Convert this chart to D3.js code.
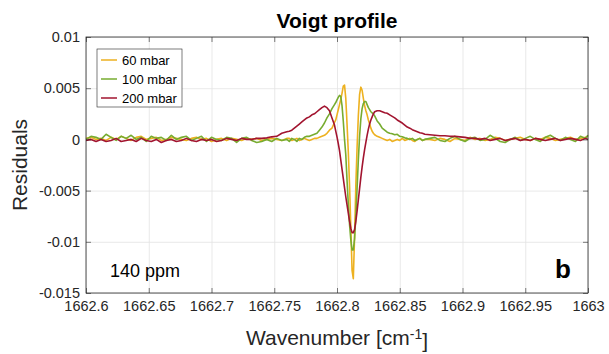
<!DOCTYPE html>
<html>
<head>
<meta charset="utf-8">
<script src="https://cdn.jsdelivr.net/npm/d3@7"></script>
<style>
  body { margin: 0; background: #fff; }
  svg { font-family: "Liberation Sans", Arial, sans-serif; }
  .axis text { font-size: 14.5px; fill: #262626; }
  .axis line { stroke: #262626; stroke-width: 0.6; }
  .axis path { display: none; }
  .grid line { stroke: #e3e3e3; stroke-width: 0.8; }
  .grid path { display: none; }
  .line { fill: none; stroke-width: 1.6; stroke-linejoin: round; }
</style>
</head>
<body>
<svg width="609" height="354"></svg>
<script>
// wavenumber grid [cm-1]
var wavenumber = [
  1662.600, 1662.604, 1662.608, 1662.612, 1662.616, 1662.620, 1662.624, 1662.628, 1662.632, 1662.636,
  1662.640, 1662.644, 1662.648, 1662.652, 1662.656, 1662.660, 1662.664, 1662.668, 1662.672, 1662.676,
  1662.680, 1662.684, 1662.688, 1662.692, 1662.696, 1662.700, 1662.704, 1662.708, 1662.712, 1662.716,
  1662.720, 1662.724, 1662.728, 1662.732, 1662.736, 1662.740, 1662.744, 1662.748, 1662.752, 1662.756,
  1662.760,
  1662.762, 1662.764, 1662.766, 1662.768, 1662.770, 1662.772, 1662.774, 1662.776, 1662.778, 1662.780,
  1662.782, 1662.784, 1662.786, 1662.788, 1662.790, 1662.792, 1662.794, 1662.796, 1662.798,
  1662.799, 1662.800, 1662.801, 1662.802, 1662.803, 1662.804, 1662.805, 1662.806, 1662.807, 1662.808,
  1662.809, 1662.810, 1662.811, 1662.812, 1662.813, 1662.814, 1662.815, 1662.816, 1662.817, 1662.818,
  1662.819, 1662.820, 1662.821, 1662.822, 1662.823, 1662.824, 1662.825, 1662.826, 1662.827, 1662.828,
  1662.829, 1662.830,
  1662.832, 1662.834, 1662.836, 1662.838, 1662.840, 1662.842, 1662.844, 1662.846, 1662.848, 1662.850,
  1662.852, 1662.854, 1662.856, 1662.858, 1662.860, 1662.862, 1662.864, 1662.866, 1662.868, 1662.870,
  1662.874, 1662.878, 1662.882, 1662.886, 1662.890, 1662.894, 1662.898, 1662.902, 1662.906, 1662.910,
  1662.914, 1662.918, 1662.922, 1662.926, 1662.930, 1662.934, 1662.938, 1662.942, 1662.946, 1662.950,
  1662.954, 1662.958, 1662.962, 1662.966, 1662.970, 1662.974, 1662.978, 1662.982, 1662.986, 1662.990,
  1662.994, 1662.998, 1663.000
];

// residuals, in units of 1e-3
var res60 = [
  0.1, 0.2, 0.0, 0.1, -0.1, 0.2, 0.0, 0.3, 0.1, -0.1,
  0.2, 0.3, 0.0, 0.1, 0.2, -0.1, 0.0, 0.2, 0.1, 0.0,
  -0.1, 0.1, 0.2, 0.0, 0.1, -0.2, 0.0, 0.1, -0.1, 0.1,
  0.0, -0.1, 0.1, 0.0, 0.1, -0.1, 0.0, 0.1, 0.0, -0.1,
  0.1,
  0.1, -0.1, 0.0, 0.1, -0.1, 0.0, 0.1, 0.0, -0.1, 0.0,
  0.1, 0.1, 0.2, 0.3, 0.4, 0.6, 0.9, 1.1, 1.65,
  1.9, 2.4, 2.9, 3.4, 3.9, 4.5, 5.2, 5.3, 4.0, 1.5,
  -1.2, -4.5, -8.5, -12.8, -13.6, -9.5, -4.5, -0.8, 2.3, 4.4,
  5.1, 4.8, 4.0, 3.3, 2.8, 2.4, 1.9, 1.5, 1.1, 0.8,
  0.6, 0.45,
  0.3, 0.2, 0.1, 0.0, -0.1, 0.0, -0.2, -0.1, 0.0, -0.1,
  0.1, -0.1, 0.0, 0.1, -0.1, -0.2, 0.0, 0.1, -0.1, 0.0,
  0.0, -0.1, 0.1, 0.0, -0.2, 0.1, 0.0, -0.1, 0.2, 0.0,
  0.1, -0.1, 0.0, 0.2, 0.1, -0.1, 0.0, 0.1, 0.2, 0.0,
  -0.1, 0.1, 0.0, 0.2, 0.1, -0.1, 0.0, 0.1, 0.2, 0.0,
  0.1, 0.2, 0.3
];

var res100 = [
  0.0, 0.3, 0.2, 0.0, 0.5, 0.2, -0.1, 0.3, 0.1, 0.4,
  0.0, 0.2, -0.2, 0.3, 0.1, 0.2, -0.1, 0.4, 0.0, 0.2,
  0.3, -0.1, 0.1, 0.3, -0.2, 0.2, 0.0, -0.1, 0.2, 0.1,
  -0.3, 0.1, 0.2, -0.1, -0.3, -0.2, 0.0, -0.2, 0.1, -0.1,
  0.0,
  -0.2, 0.1, 0.0, -0.2, 0.1, 0.0, 0.2, 0.3, 0.3, 0.4,
  0.5, 0.6, 0.9, 1.2, 1.6, 2.1, 2.5, 3.0, 3.4,
  3.6, 3.85, 4.1, 4.3, 4.2, 3.3, 1.8, 0.0, -1.5, -4.0,
  -6.3, -8.3, -9.8, -10.8, -10.8, -9.7, -7.5, -4.8, -2.0, 0.3,
  2.0, 3.0, 3.5, 3.7, 3.7, 3.4, 3.1, 2.9, 2.7, 2.6,
  2.5, 2.3,
  1.8, 1.5, 1.1, 0.9, 0.7, 0.6, 0.55, 0.45, 0.5, 0.3,
  0.25, 0.15, 0.1, 0.0, 0.1, -0.1, 0.0, 0.1, -0.1, 0.0,
  0.1, 0.2, -0.1, -0.2, 0.1, 0.3, 0.0, -0.2, 0.1, 0.2,
  -0.1, 0.0, 0.4, 0.1, -0.2, -0.3, 0.0, 0.2, -0.1, 0.1,
  0.3, 0.0, -0.2, 0.2, 0.4, 0.1, -0.1, 0.2, 0.0, -0.2,
  0.3, 0.1, 0.4
];

var res200 = [
  -0.1, 0.0, -0.2, 0.0, -0.2, -0.1, 0.1, -0.2, -0.1, 0.0,
  -0.2, 0.1, -0.1, -0.2, 0.0, -0.3, -0.1, 0.0, -0.2, -0.1,
  0.1, -0.1, -0.2, 0.0, -0.1, 0.0, -0.2, -0.1, 0.1, 0.0,
  -0.1, 0.1, 0.0, 0.0, 0.1, 0.1, 0.15, 0.25, 0.3, 0.6,
  0.75,
  0.8, 0.9, 1.1, 1.3, 1.5, 1.7, 1.9, 2.1, 2.2, 2.4,
  2.5, 2.7, 2.9, 3.1, 3.25, 3.1, 2.8, 2.1, 1.4,
  0.8, 0.25, -0.4, -1.1, -2.0, -2.9, -3.8, -4.7, -5.6, -6.4,
  -7.2, -8.0, -8.7, -9.1, -9.1, -8.8, -8.0, -7.0, -5.9, -4.8,
  -3.7, -2.7, -1.8, -1.0, -0.3, 0.4, 1.0, 1.5, 1.9, 2.2,
  2.5, 2.7,
  2.8, 2.8, 2.7, 2.6, 2.55, 2.4, 2.25, 2.1, 1.9, 1.75,
  1.6, 1.4, 1.2, 1.1, 0.95, 0.85, 0.75, 0.65, 0.6, 0.5,
  0.45, 0.4, 0.35, 0.35, 0.3, 0.3, 0.25, 0.2, 0.1, 0.1,
  0.0, 0.1, -0.1, 0.0, 0.1, -0.1, 0.0, 0.1, -0.1, 0.0,
  -0.1, 0.1, 0.0, -0.1, 0.0, 0.1, -0.1, 0.0, 0.1, 0.0,
  -0.1, 0.1, 0.0
];

var seriesNames = ["60 mbar", "100 mbar", "200 mbar"];
var seriesColors = ["#EDB120", "#77AC30", "#A2142F"];
var xTicks = [1662.6, 1662.65, 1662.7, 1662.75, 1662.8, 1662.85, 1662.9, 1662.95, 1663];
var yTicks = [-0.015, -0.01, -0.005, 0, 0.005, 0.01];

var svg = d3.select("svg"),
    margin = {top: 37, right: 21, bottom: 61, left: 86},
    width = +svg.attr("width") - margin.left - margin.right,
    height = +svg.attr("height") - margin.top - margin.bottom,
    g = svg.append("g").attr("transform", "translate(" + margin.left + "," + margin.top + ")");

var x = d3.scaleLinear().domain([1662.6, 1663]).range([0, width]),
    y = d3.scaleLinear().domain([-0.015, 0.01]).range([height, 0]);

var fmt = function(d) { return String(+d.toFixed(4)); };

// grid
g.append("g")
    .attr("class", "grid")
    .attr("transform", "translate(0," + height + ")")
    .call(d3.axisBottom(x).tickValues(xTicks).tickSize(-height).tickFormat(""));
g.append("g")
    .attr("class", "grid")
    .call(d3.axisLeft(y).tickValues(yTicks).tickSize(-width).tickFormat(""));

// lines
var series = [res60, res100, res200].map(function(vals, i) {
  return {
    name: seriesNames[i],
    color: seriesColors[i],
    values: vals.map(function(v, j) { return {wn: wavenumber[j], r: v * 1e-3}; })
  };
});

var line = d3.line()
    .x(function(d) { return x(d.wn); })
    .y(function(d) { return y(d.r); });

g.selectAll(".line")
  .data(series)
  .enter().append("path")
    .attr("class", "line")
    .attr("d", function(d) { return line(d.values); })
    .style("stroke", function(d) { return d.color; });

// axes, ticks inside like matlab
g.append("g")
    .attr("class", "axis")
    .attr("transform", "translate(0," + height + ")")
    .call(d3.axisBottom(x).tickValues(xTicks).tickSizeInner(-5).tickSizeOuter(0).tickPadding(8).tickFormat(fmt));
g.append("g")
    .attr("class", "axis")
    .call(d3.axisTop(x).tickValues(xTicks).tickSizeInner(-5).tickSizeOuter(0).tickFormat(""));
g.append("g")
    .attr("class", "axis")
    .call(d3.axisLeft(y).tickValues(yTicks).tickSizeInner(-5).tickSizeOuter(0).tickPadding(6).tickFormat(fmt));
g.append("g")
    .attr("class", "axis")
    .attr("transform", "translate(" + width + ",0)")
    .call(d3.axisRight(y).tickValues(yTicks).tickSizeInner(-5).tickSizeOuter(0).tickFormat(""));

g.append("rect")
    .attr("width", width)
    .attr("height", height)
    .attr("fill", "none")
    .attr("stroke", "#262626")
    .attr("stroke-width", 0.8);

// legend
var legend = g.append("g").attr("transform", "translate(11,12)");
legend.append("rect")
    .attr("width", 85)
    .attr("height", 58)
    .attr("fill", "#fff")
    .attr("stroke", "#262626")
    .attr("stroke-width", 0.6);
var item = legend.selectAll(".item")
  .data(series)
  .enter().append("g")
    .attr("transform", function(d, i) { return "translate(0," + (11 + i * 19) + ")"; });
item.append("line")
    .attr("x1", 4).attr("x2", 20)
    .attr("stroke", function(d) { return d.color; })
    .attr("stroke-width", 1.5);
item.append("text")
    .attr("x", 25)
    .attr("dy", "0.35em")
    .style("font-size", "13px")
    .attr("fill", "#000")
    .text(function(d) { return d.name; });

// annotations
g.append("text")
    .attr("x", 24)
    .attr("y", height - 16)
    .style("font-size", "18px")
    .text("140 ppm");
g.append("text")
    .attr("x", width - 17)
    .attr("y", height - 15)
    .attr("text-anchor", "end")
    .style("font-size", "26px")
    .style("font-weight", "bold")
    .text("b");

// title and labels
svg.append("text")
    .attr("x", margin.left + width / 2)
    .attr("y", 28)
    .attr("text-anchor", "middle")
    .style("font-size", "21px")
    .style("font-weight", "bold")
    .text("Voigt profile");

svg.append("text")
    .attr("transform", "translate(27," + (margin.top + height / 2) + ") rotate(-90)")
    .attr("text-anchor", "middle")
    .style("font-size", "21px")
    .attr("fill", "#262626")
    .text("Residuals");

var xl = svg.append("text")
    .attr("x", margin.left + width / 2)
    .attr("y", 345)
    .attr("text-anchor", "middle")
    .style("font-size", "21px")
    .attr("fill", "#262626");
xl.append("tspan").text("Wavenumber [cm");
xl.append("tspan").attr("dy", "-0.45em").style("font-size", "14px").text("-1");
xl.append("tspan").attr("dy", "0.45em").text("]");
</script>
</body>
</html>
